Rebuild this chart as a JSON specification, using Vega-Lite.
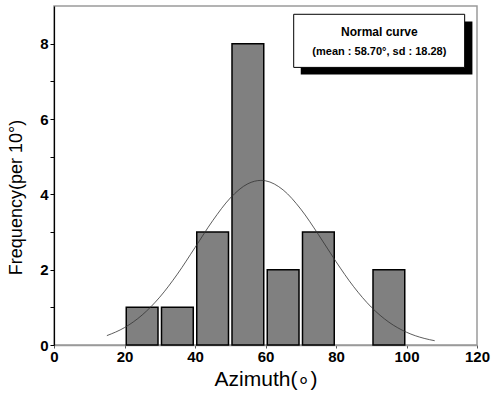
{
  "$schema": "https://vega.github.io/schema/vega-lite/v6.json",
  "width": 423,
  "height": 339,
  "autosize": {"type": "none"},
  "padding": {"left": 54, "top": 6, "right": 14, "bottom": 52},
  "background": "white",
  "config": {
    "view": {"stroke": "#9a9a9a", "strokeWidth": 1.5},
    "font": "Liberation Sans"
  },
  "datasets": {
    "bins": [
      {"start": 20, "end": 30, "count": 1},
      {"start": 30, "end": 40, "count": 1},
      {"start": 40, "end": 50, "count": 3},
      {"start": 50, "end": 60, "count": 8},
      {"start": 60, "end": 70, "count": 2},
      {"start": 70, "end": 80, "count": 3},
      {"start": 90, "end": 100, "count": 2}
    ],
    "curve": [
      {"x": 15, "y": 0.249},
      {"x": 20, "y": 0.462},
      {"x": 25, "y": 0.796},
      {"x": 30, "y": 1.271},
      {"x": 35, "y": 1.882},
      {"x": 40, "y": 2.587},
      {"x": 45, "y": 3.298},
      {"x": 50, "y": 3.901},
      {"x": 55, "y": 4.281},
      {"x": 58.7, "y": 4.370},
      {"x": 60, "y": 4.359},
      {"x": 65, "y": 4.117},
      {"x": 70, "y": 3.608},
      {"x": 75, "y": 2.934},
      {"x": 80, "y": 2.213},
      {"x": 85, "y": 1.549},
      {"x": 90, "y": 1.006},
      {"x": 95, "y": 0.606},
      {"x": 100, "y": 0.339},
      {"x": 105, "y": 0.176},
      {"x": 108, "y": 0.114}
    ]
  },
  "layer": [
    {
      "data": {"name": "bins"},
      "mark": {"type": "rect", "fill": "#808080", "stroke": "#000000", "strokeWidth": 1.5, "xOffset": 1.75, "x2Offset": -1.75},
      "encoding": {
        "x": {
          "field": "start", "type": "quantitative",
          "scale": {"domain": [0, 120], "nice": false, "zero": false},
          "axis": {
            "title": "Azimuth(∘)",
            "titleFont": "Liberation Sans", "titleFontSize": 21, "titleFontWeight": "normal", "titleColor": "#000000",
            "titlePadding": 4,
            "values": [0, 10, 20, 30, 40, 50, 60, 70, 80, 90, 100, 110, 120],
            "labelExpr": "datum.value % 20 ? '' : datum.label",
            "labelFont": "Liberation Sans", "labelFontSize": 15, "labelFontWeight": "bold", "labelColor": "#000000",
            "labelPadding": 1, "labelFlush": false,
            "tickSize": 3, "tickColor": "#555555", "domainColor": "#9a9a9a", "domainWidth": 1.5,
            "grid": false
          }
        },
        "x2": {"field": "end"},
        "y": {
          "field": "count", "type": "quantitative",
          "scale": {"domain": [0, 9], "nice": false},
          "axis": {
            "title": "Frequency(per 10°)",
            "titleFont": "Liberation Sans", "titleFontSize": 18, "titleFontWeight": "normal", "titleColor": "#000000",
            "titlePadding": 14,
            "titleY": 191,
            "values": [0, 1, 2, 3, 4, 5, 6, 7, 8],
            "labelExpr": "datum.value % 2 ? '' : datum.label",
            "labelFont": "Liberation Sans", "labelFontSize": 15, "labelFontWeight": "bold", "labelColor": "#000000",
            "labelPadding": 2,
            "tickSize": 4, "tickColor": "#000000", "domainColor": "#000000", "domainWidth": 1.2,
            "grid": false
          }
        },
        "y2": {"datum": 0}
      }
    },
    {
      "data": {"name": "curve"},
      "mark": {"type": "line", "color": "#333333", "strokeWidth": 0.8, "interpolate": "monotone"},
      "encoding": {
        "x": {"field": "x", "type": "quantitative"},
        "y": {"field": "y", "type": "quantitative"}
      }
    },
    {
      "data": {"values": [{}]},
      "mark": {"type": "rect", "fill": "#000000"},
      "encoding": {
        "x": {"datum": 70.0}, "x2": {"datum": 118.7},
        "y": {"datum": 8.59}, "y2": {"datum": 7.18}
      }
    },
    {
      "data": {"values": [{}]},
      "mark": {"type": "rect", "fill": "#ffffff", "stroke": "#000000", "strokeWidth": 1},
      "encoding": {
        "x": {"datum": 68.0}, "x2": {"datum": 116.5},
        "y": {"datum": 8.78}, "y2": {"datum": 7.37}
      }
    },
    {
      "data": {"values": [{"t": "Normal curve", "ty": 8.30, "fs": 12}, {"t": "(mean : 58.70°, sd : 18.28)", "ty": 7.77, "fs": 11}]},
      "mark": {"type": "text", "font": "Liberation Sans", "fontWeight": "bold", "color": "#000000", "baseline": "middle", "align": "center"},
      "encoding": {
        "x": {"datum": 92.3},
        "y": {"field": "ty", "type": "quantitative"},
        "text": {"field": "t"},
        "size": {"field": "fs", "type": "quantitative", "scale": null, "legend": null}
      }
    }
  ]
}
